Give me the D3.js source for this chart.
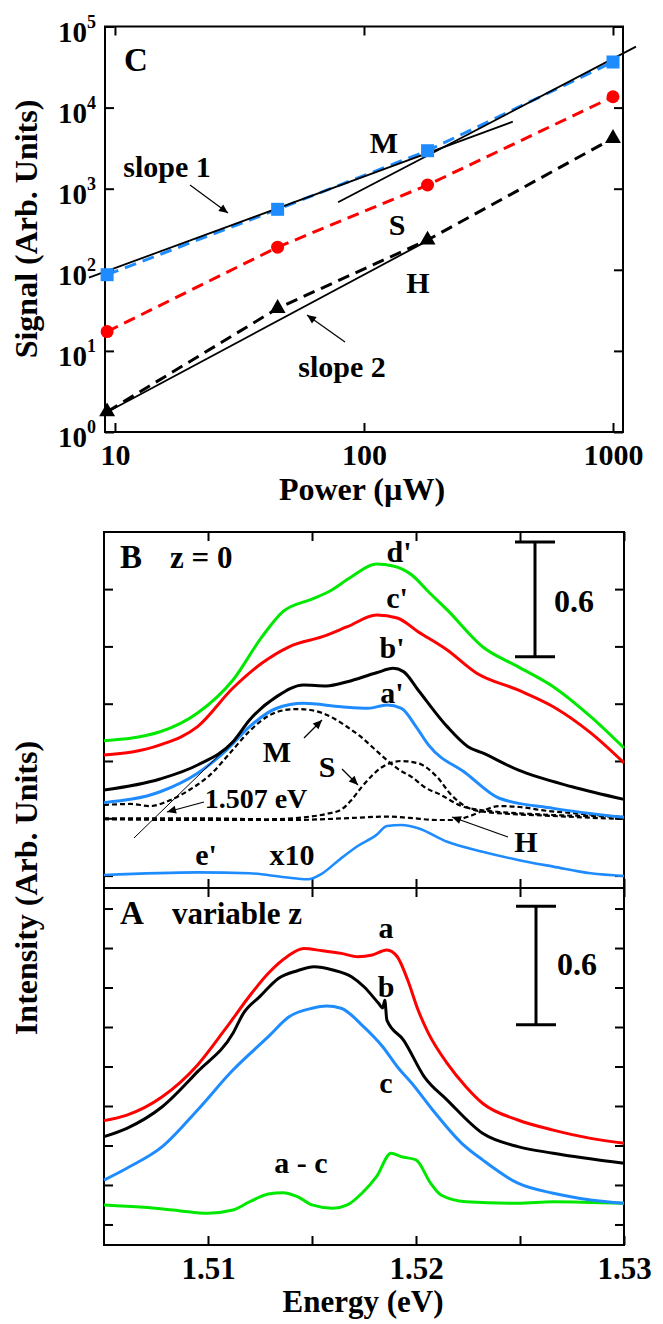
<!DOCTYPE html>
<html>
<head>
<meta charset="utf-8">
<script src="https://cdn.jsdelivr.net/npm/d3@7"></script>
<style>
  body { margin: 0; background: #fff; }
  text { font-family: "Liberation Serif", "Times New Roman", serif; font-weight: bold; fill: #000; }
</style>
</head>
<body>
<div id="chart"></div>
<script>
// === panel C: signal vs excitation power ===
const power   = [9.3, 45, 180, 1000];
const signalM = [87, 557, 2940, 36500];
const signalS = [17.3, 190, 1110, 13600];
const signalH = [1.78, 33.5, 233, 4180];
// power-law guide lines, [power, signal]
const guideSlope1 = [[7.86, 80], [396, 6700]];
const guideM      = [[78.7, 680], [1237, 56400]];
const guideSlope2 = [[9.12, 1.7], [172, 212]];
const powerTicks  = [10, 100, 1000];
const signalTicks = [1, 10, 100, 1e3, 1e4, 1e5];

// === panel B: z = 0 spectra, [energy (eV), intensity] ===
const specD = [[1.505,0.706],[1.5077,0.753],[1.5095,0.851],[1.5112,1.024],[1.5126,1.251],[1.5136,1.382],
  [1.515,1.448],[1.5158,1.486],[1.5169,1.565],[1.5181,1.631],[1.5189,1.621],[1.5198,1.574],[1.5206,1.486],
  [1.5215,1.391],[1.5232,1.198],[1.5249,1.094],[1.5266,0.989],[1.5284,0.832],[1.53,0.668]];
const specC = [[1.505,0.631],[1.5077,0.684],[1.5095,0.78],[1.5112,0.982],[1.5126,1.113],[1.5139,1.198],
  [1.5155,1.251],[1.5167,1.303],[1.5181,1.364],[1.5191,1.349],[1.5201,1.277],[1.5215,1.181],[1.5229,1.061],
  [1.5249,0.972],[1.5266,0.884],[1.5284,0.747],[1.53,0.59]];
const specB = [[1.505,0.448],[1.5077,0.506],[1.5095,0.579],[1.5112,0.701],[1.512,0.815],[1.5133,0.937],
  [1.5146,0.998],[1.5157,0.993],[1.5167,1.015],[1.5181,1.062],[1.5189,1.085],[1.5194,1.068],[1.5201,0.972],
  [1.5215,0.78],[1.5225,0.675],[1.5232,0.642],[1.5249,0.553],[1.5275,0.465],[1.53,0.399]];
const specA = [[1.505,0.382],[1.5077,0.439],[1.5095,0.536],[1.5109,0.658],[1.512,0.78],[1.5133,0.876],
  [1.5146,0.902],[1.5164,0.884],[1.5177,0.876],[1.5186,0.893],[1.5193,0.876],[1.52,0.78],[1.5206,0.684],
  [1.5224,0.536],[1.524,0.405],[1.5266,0.352],[1.53,0.305]];
const specE10 = [[1.505,0.003],[1.5095,0.017],[1.512,0.012],[1.5137,-0.009],[1.5148,-0.019],[1.5155,0.012],
  [1.5163,0.082],[1.5172,0.155],[1.5181,0.213],[1.5186,0.26],[1.5193,0.265],[1.5201,0.248],[1.5215,0.177],
  [1.5232,0.125],[1.5249,0.082],[1.5266,0.047],[1.5284,0.012],[1.53,-0.002]];
// fitted components
const compM = [[1.505,0.37],[1.5063,0.375],[1.5072,0.364],[1.5082,0.396],[1.5091,0.448],[1.5101,0.527],
  [1.5111,0.647],[1.512,0.757],[1.5129,0.836],[1.5137,0.867],[1.5143,0.872],[1.5149,0.867],[1.5155,0.851],
  [1.5161,0.82],[1.5167,0.778],[1.5173,0.731],[1.5179,0.673],[1.5186,0.605],[1.5192,0.553],[1.5198,0.516],
  [1.5204,0.464],[1.5212,0.422],[1.5222,0.364],[1.5231,0.343],[1.524,0.333],[1.5255,0.323],[1.5266,0.317],
  [1.5284,0.312],[1.53,0.307]];
const compS = [[1.505,0.3],[1.5095,0.3],[1.5129,0.295],[1.5146,0.305],[1.5157,0.323],[1.5164,0.345],
  [1.5169,0.396],[1.5174,0.465],[1.5184,0.57],[1.5193,0.6],[1.5201,0.588],[1.521,0.518],[1.5217,0.422],
  [1.5224,0.361],[1.5232,0.335],[1.5266,0.312],[1.53,0.296]];
const compH = [[1.505,0.295],[1.5095,0.291],[1.514,0.291],[1.517,0.302],[1.5186,0.309],[1.5197,0.302],
  [1.521,0.291],[1.5218,0.291],[1.5226,0.312],[1.5233,0.343],[1.524,0.364],[1.525,0.359],[1.526,0.343],
  [1.528,0.323],[1.53,0.307]];

// === panel A: variable z spectra ===
const specAa = [[1.505,0.526],[1.5061,0.554],[1.5078,0.647],[1.5095,0.808],[1.5108,0.985],[1.5121,1.171],
  [1.5129,1.272],[1.5138,1.356],[1.5146,1.398],[1.5155,1.386],[1.5164,1.373],[1.5172,1.356],[1.5179,1.365],
  [1.5186,1.39],[1.5191,1.356],[1.5196,1.238],[1.5201,1.086],[1.5206,0.968],[1.5215,0.816],[1.5224,0.698],
  [1.5232,0.614],[1.5249,0.529],[1.5266,0.478],[1.5284,0.436],[1.53,0.411]];
const specAb = [[1.505,0.445],[1.5061,0.487],[1.5078,0.596],[1.5095,0.774],[1.5112,0.968],[1.5117,1.069],
  [1.5125,1.155],[1.5134,1.247],[1.5143,1.285],[1.5151,1.305],[1.516,1.289],[1.5169,1.255],[1.5175,1.204],
  [1.5182,1.12],[1.5184,1.096],[1.5185,1.136],[1.5186,1.035],[1.5194,0.934],[1.5204,0.748],[1.5215,0.63],
  [1.5232,0.462],[1.5249,0.394],[1.5266,0.361],[1.53,0.31]];
const specAc = [[1.505,0.225],[1.5061,0.285],[1.5078,0.394],[1.5095,0.58],[1.5112,0.782],[1.5129,0.951],
  [1.5139,1.052],[1.515,1.095],[1.5157,1.106],[1.5164,1.095],[1.5174,1.01],[1.5184,0.9],[1.5191,0.799],
  [1.5198,0.715],[1.5208,0.58],[1.5222,0.411],[1.5232,0.327],[1.5249,0.209],[1.5266,0.158],[1.5284,0.124],
  [1.53,0.107]];
const specDiff = [[1.505,0.099],[1.5069,0.087],[1.5086,0.07],[1.51,0.057],[1.5112,0.073],[1.512,0.115],
  [1.5129,0.154],[1.5136,0.161],[1.5143,0.141],[1.515,0.099],[1.516,0.082],[1.5167,0.099],[1.5174,0.158],
  [1.5181,0.242],[1.5188,0.361],[1.5193,0.343],[1.52,0.327],[1.5207,0.209],[1.5212,0.149],[1.5224,0.115],
  [1.5249,0.107],[1.5266,0.115],[1.53,0.107]];
const energyTicks = [1.51, 1.515, 1.52, 1.525, 1.53];
const ticksB = [0, 0.3, 0.6, 0.9, 1.2, 1.5];
const ticksA = [0, 0.2, 0.4, 0.6, 0.8, 1.0, 1.2, 1.4, 1.6];

const BLUE = "#1e8cff", RED = "#ff0000", GREEN = "#00e800";

const svg = d3.select("#chart").append("svg").attr("width", 663).attr("height", 1324);
svg.append("defs").append("marker")
  .attr("id", "ah").attr("viewBox", "0 0 10 10").attr("refX", 10).attr("refY", 5)
  .attr("markerWidth", 11).attr("markerHeight", 9).attr("markerUnits", "userSpaceOnUse")
  .attr("orient", "auto")
  .append("path").attr("d", "M0,0.5 L10,5 L0,9.5 Z").attr("fill", "#000");

function arrow(x1, y1, x2, y2) {
  svg.append("line").attr("x1", x1).attr("y1", y1).attr("x2", x2).attr("y2", y2)
    .attr("stroke", "#000").attr("stroke-width", 1.2).attr("marker-end", "url(#ah)");
}
function label(x, y, t, size, anchor) {
  return svg.append("text").attr("x", x).attr("y", y).attr("font-size", size || 30)
    .attr("text-anchor", anchor || "middle").text(t);
}
function frame(x0, x1, y0, y1) {
  svg.append("rect").attr("x", x0).attr("y", y0).attr("width", x1 - x0).attr("height", y1 - y0)
    .attr("fill", "none").attr("stroke", "#000").attr("stroke-width", 2);
}
function cleanAxis(g) { g.select(".domain").remove(); g.selectAll(".tick line").attr("stroke-width", 2); }

// ---------------- panel C ----------------
const xC = d3.scaleLog().domain([9.12, 1097]).range([105, 623]);
const yC = d3.scaleLog().domain([1, 1e5]).range([432, 26.5]);

svg.append("g").attr("transform", "translate(0,432)")
  .call(d3.axisBottom(xC).tickValues(powerTicks).tickSize(-9).tickPadding(12).tickFormat(d3.format("d")))
  .call(cleanAxis).selectAll("text").attr("font-size", 30).attr("font-family", null);
svg.append("g").attr("transform", "translate(0,26.5)")
  .call(d3.axisTop(xC).tickValues(powerTicks).tickSize(-9).tickFormat(""))
  .call(cleanAxis);
const yCAxis = svg.append("g").attr("transform", "translate(105,0)")
  .call(d3.axisLeft(yC).tickValues(signalTicks).tickSize(-9).tickPadding(9))
  .call(cleanAxis);
yCAxis.selectAll(".tick text").attr("font-size", 29).attr("font-family", null).attr("dy", "0.5em")
  .each(function (d) {
    const t = d3.select(this);
    t.text(null);
    t.append("tspan").text("10");
    t.append("tspan").attr("dy", -14).attr("font-size", 18).text(Math.round(Math.log10(d)));
  });
svg.append("g").attr("transform", "translate(623,0)")
  .call(d3.axisRight(yC).tickValues(signalTicks).tickSize(-9).tickFormat(""))
  .call(cleanAxis);
frame(105, 623, 26.5, 432);

const lineC = d3.line().x(d => xC(d[0])).y(d => yC(d[1]));
[[signalM, BLUE], [signalS, RED], [signalH, "#000"]].forEach(([s, c]) => {
  svg.append("path").datum(power.map((p, i) => [p, s[i]]))
    .attr("d", lineC).attr("fill", "none").attr("stroke", c)
    .attr("stroke-width", 3).attr("stroke-dasharray", "12,7");
});
[guideSlope1, guideM, guideSlope2].forEach(gd => {
  svg.append("path").datum(gd).attr("d", lineC).attr("fill", "none")
    .attr("stroke", "#000").attr("stroke-width", 1.8);
});
svg.append("g").selectAll("rect").data(power).join("rect")
  .attr("x", d => xC(d) - 6.5).attr("y", (d, i) => yC(signalM[i]) - 6.5)
  .attr("width", 13).attr("height", 13).attr("fill", BLUE);
svg.append("g").selectAll("circle").data(power).join("circle")
  .attr("cx", d => xC(d)).attr("cy", (d, i) => yC(signalS[i])).attr("r", 6.5).attr("fill", RED);
svg.append("g").selectAll("path").data(power).join("path")
  .attr("d", d3.symbol(d3.symbolTriangle, 110))
  .attr("transform", (d, i) => `translate(${xC(d)},${yC(signalH[i])})`).attr("fill", "#000");

label(136, 71, "C", 33);
label(167, 177, "slope 1", 30);
arrow(190, 185, 228, 213);
label(384, 153, "M", 30);
label(397, 235, "S", 30);
label(418, 293, "H", 30);
label(342, 377, "slope 2", 30);
arrow(345, 342, 307, 315);
label(362, 500, "Power (\u00b5W)", 32);
svg.append("text").attr("transform", "translate(37,229) rotate(-90)")
  .attr("text-anchor", "middle").attr("font-size", 32).text("Signal (Arb. Units)");

// ---------------- panels B and A ----------------
const xE = d3.scaleLinear().domain([1.505, 1.53]).range([104, 624]);
const yB = d3.scaleLinear().domain([-0.065, 1.799]).range([888, 532]);
const yA = d3.scaleLinear().domain([-0.104, 1.704]).range([1245, 888]);

function energyAxes(y0, y1, yScale, ticks, withLabels) {
  const bottom = svg.append("g").attr("transform", `translate(0,${y1})`)
    .call(d3.axisBottom(xE).tickValues(energyTicks).tickSize(-9).tickPadding(12)
      .tickFormat(d => withLabels && [1.51, 1.52, 1.53].includes(d) ? d3.format(".2f")(d) : ""))
    .call(cleanAxis);
  bottom.selectAll("text").attr("font-size", 31).attr("font-family", null);
  svg.append("g").attr("transform", `translate(0,${y0})`)
    .call(d3.axisTop(xE).tickValues(energyTicks).tickSize(-9).tickFormat("")).call(cleanAxis);
  svg.append("g").attr("transform", "translate(104,0)")
    .call(d3.axisLeft(yScale).tickValues(ticks).tickSize(-9).tickFormat("")).call(cleanAxis);
  svg.append("g").attr("transform", "translate(624,0)")
    .call(d3.axisRight(yScale).tickValues(ticks).tickSize(-9).tickFormat("")).call(cleanAxis);
  frame(104, 624, y0, y1);
}
energyAxes(532, 888, yB, ticksB, false);
energyAxes(888, 1245, yA, ticksA, true);

function spectrum(data, yScale, color, width, dash) {
  svg.append("path").datum(data)
    .attr("d", d3.line().x(d => xE(d[0])).y(d => yScale(d[1])).curve(d3.curveMonotoneX))
    .attr("fill", "none").attr("stroke", color).attr("stroke-width", width)
    .attr("stroke-dasharray", dash || null).attr("stroke-linejoin", "round");
}
[compH, compS, compM].forEach(c => spectrum(c, yB, "#000", 2.2, "5,3"));
spectrum(specE10, yB, BLUE, 2.6);
spectrum(specA, yB, BLUE, 3);
spectrum(specB, yB, "#000", 3);
spectrum(specC, yB, RED, 3);
spectrum(specD, yB, GREEN, 3);

spectrum(specDiff, yA, GREEN, 3);
spectrum(specAc, yA, BLUE, 3);
spectrum(specAb, yA, "#000", 3);
spectrum(specAa, yA, RED, 3);

// scale bars (0.6 units)
function scaleBar(xc, yScale, top) {
  const y0 = yScale(top), y1 = yScale(top - 0.6);
  svg.append("line").attr("x1", xc).attr("x2", xc).attr("y1", y0).attr("y2", y1)
    .attr("stroke", "#000").attr("stroke-width", 3);
  [y0, y1].forEach(y => svg.append("line").attr("x1", xc - 20).attr("x2", xc + 20)
    .attr("y1", y).attr("y2", y).attr("stroke", "#000").attr("stroke-width", 3));
}
scaleBar(535, yB, 1.746);
scaleBar(536, yA, 1.612);
label(574, 612, "0.6", 32);
label(577, 975, "0.6", 32);

// panel B annotations
label(120, 568, "B", 33, "start");
label(170, 568, "z = 0", 31, "start");
label(399, 562, "d'", 30);
label(397, 608, "c'", 30);
label(392, 658, "b'", 30);
label(392, 703, "a'", 30);
label(277, 762, "M", 30);
arrow(304, 738, 322, 720);
label(327, 777, "S", 30);
arrow(342, 769, 358, 785);
label(256, 808, "1.507 eV", 28);
arrow(204, 802, 167, 812);
svg.append("line").attr("x1", 134).attr("y1", 838).attr("x2", 240).attr("y2", 735)
  .attr("stroke", "#000").attr("stroke-width", 1);
label(526, 852, "H", 30);
arrow(508, 837, 452, 817);
label(206, 865, "e'", 30);
label(292, 865, "x10", 30);

// panel A annotations
label(120, 924, "A", 33, "start");
label(172, 924, "variable z", 31, "start");
label(386, 938, "a", 30);
label(386, 997, "b", 30);
label(386, 1093, "c", 30);
label(301, 1173, "a - c", 30);

label(363, 1312, "Energy (eV)", 31);
svg.append("text").attr("transform", "translate(37,888) rotate(-90)")
  .attr("text-anchor", "middle").attr("font-size", 32).text("Intensity (Arb. Units)");
</script>
</body>
</html>
